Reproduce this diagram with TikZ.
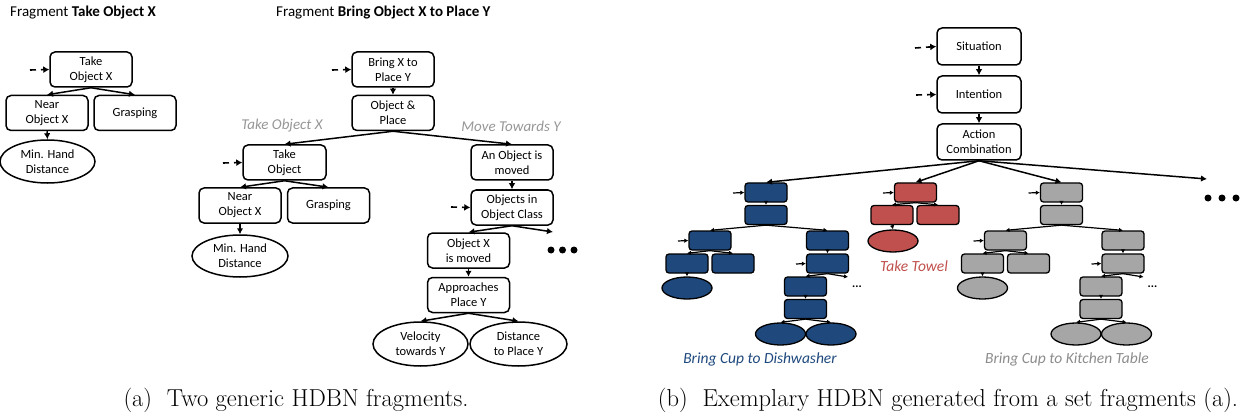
\documentclass[tikz,border=0pt]{standalone}
\usepackage{fontspec}
\newfontfamily\carl{Carlito}
\usetikzlibrary{arrows.meta,shapes.geometric}
\definecolor{hblue}{RGB}{31,73,125}
\definecolor{hred}{RGB}{192,80,77}
\definecolor{hgray}{RGB}{166,166,166}
\definecolor{lgray}{RGB}{150,150,150}
\definecolor{kgray}{RGB}{140,140,140}
\tikzset{
 box/.style={draw, line width=1.5pt, rounded corners=5pt, minimum width=82pt, minimum height=35pt, inner sep=0pt, align=center, font=\carl\fontsize{12.5}{15}\selectfont},
 oval/.style={draw, ellipse, line width=1.5pt, minimum width=95pt, minimum height=43pt, inner sep=0pt, align=center, font=\carl\fontsize{12.5}{15}\selectfont},
 arr/.style={line width=1.5pt, -{Latex[length=6pt,width=6.5pt]}},
 inarr/.style={line width=1.6pt, dash pattern=on 6pt off 5pt, -{Latex[length=6pt,width=7pt]}},
 mini/.style={draw, fill=#1, line width=1.3pt, rounded corners=3pt, minimum width=42pt, minimum height=19pt, inner sep=0pt},
 miniov/.style={draw, fill=#1, ellipse, line width=1.3pt, minimum width=50pt, minimum height=22pt, inner sep=0pt},
 marr/.style={line width=1.2pt, -{Latex[length=4pt,width=4.5pt]}},
 glabel/.style={font=\carl\itshape\fontsize{15}{18}\selectfont, text=lgray, inner sep=0pt},
 title/.style={font=\carl\fontsize{15}{18}\selectfont, anchor=west, inner sep=0pt},
 caption/.style={font=\fontsize{24.5}{28}\selectfont, inner sep=0pt},
 bigdot/.style={fill=black, circle, minimum size=7pt, inner sep=0pt},
 smalldots/.style={font=\carl\bfseries\fontsize{12}{14}\selectfont, inner sep=0pt},
}
\newcommand\minitree[3]{%
\begin{scope}[xshift=#2pt, name prefix=#1-]
\node[mini=#3] (b1) at (766,192.5) {};
\node[mini=#3] (b2) at (766,215) {};
\node[mini=#3] (b3) at (710,240.5) {};
\node[mini=#3] (b4) at (827.5,240.5) {};
\node[mini=#3] (b5) at (687,263.5) {};
\node[mini=#3] (b6) at (733,263.5) {};
\node[miniov=#3] (e1) at (687,288) {};
\node[mini=#3] (b7) at (827.5,263.5) {};
\node[mini=#3] (b8) at (805.5,286.5) {};
\node[mini=#3] (b9) at (805.5,309) {};
\node[miniov=#3] (e2) at (780.5,334) {};
\node[miniov=#3] (e3) at (831,334) {};
\coordinate (cr) at (848,277);
\coordinate (i1) at (733,193);
\coordinate (i2) at (678,241);
\coordinate (i3) at (796,264);
\node[smalldots] (dd) at (857,287) {...};
\draw[marr] (i1) -- (b1.west);
\draw[marr] (i2) -- (b3.west);
\draw[marr] (i3) -- (b7.west);
\draw[marr] (b1.south) -- (b2.north);
\draw[marr] (b2.south) -- (b3.north);
\draw[marr] (b2.south) -- (b4.north);
\draw[marr] (b3.south) -- (b5.north);
\draw[marr] (b3.south) -- (b6.north);
\draw[marr] (b5.south) -- (e1.north);
\draw[marr] (b4.south) -- (b7.north);
\draw[marr] (b7.south) -- (b8.north);
\draw[marr] (b7.south) -- (cr);
\draw[marr] (b8.south) -- (b9.north);
\draw[marr] (b9.south) -- (e2.north);
\draw[marr] (b9.south) -- (e3.north);
\end{scope}}
\begin{document}
\begin{tikzpicture}[x=1pt,y=-1pt]
\useasboundingbox (0,0) rectangle (1241,414);
% ---------- Fragment Take Object X
\node[title] (t-a) at (10,13) {Fragment \textbf{Take Object X}};
\node[box] (t1) at (91,69.5) {Take\\Object X};
\node[box] (n1) at (47,113) {Near\\Object X};
\node[box] (g1) at (135,113) {Grasping};
\node[oval] (e1) at (47.5,161.5) {Min. Hand\\Distance};
\coordinate (i1) at (30,70);
\draw[inarr] (i1) -- (t1.west);
\draw[arr] (t1.south) -- (n1.north);
\draw[arr] (t1.south) -- (g1.north);
\draw[arr] (n1.south) -- (e1.north);
% ---------- Fragment Bring Object X to Place Y
\node[title] (t-b) at (276,13) {Fragment \textbf{Bring Object X to Place Y}};
\node[box] (bx) at (393,69.5) {Bring X to\\Place Y};
\node[box] (op) at (393,113) {Object \&\\Place};
\coordinate (i2) at (332,70);
\draw[inarr] (i2) -- (bx.west);
\draw[arr] (bx.south) -- (op.north);
\node[glabel] (l1) at (282,126) {Take Object X};
\node[glabel] (l2) at (511,126) {Move Towards Y};
\node[box, minimum width=83pt] (to) at (284.5,162.5) {Take\\Object};
\coordinate (i3) at (223,163);
\draw[inarr] (i3) -- (to.west);
\node[box] (n2) at (240,205.5) {Near\\Object X};
\node[box] (g2) at (328.5,205.5) {Grasping};
\node[oval, minimum width=96pt, minimum height=42pt] (e2) at (240,256) {Min. Hand\\Distance};
\draw[arr] (op.south) -- (to.north);
\draw[arr] (to.south) -- (n2.north);
\draw[arr] (to.south) -- (g2.north);
\draw[arr] (n2.south) -- (e2.north);
\node[box] (am) at (512,162.5) {An Object is\\moved};
\node[box] (oc) at (512,207.5) {Objects in\\Object Class};
\coordinate (i4) at (451,207);
\draw[inarr] (i4) -- (oc.west);
\draw[arr] (op.south) -- (am.north);
\draw[arr] (am.south) -- (oc.north);
\node[box] (ox) at (468.5,250.5) {Object X\\is moved};
\coordinate (c1) at (553,232);
\draw[arr] (oc.south) -- (ox.north);
\draw[arr] (oc.south) -- (c1);
\node[bigdot] (d1) at (551,250) {};
\node[bigdot] (d2) at (562.5,250) {};
\node[bigdot] (d3) at (574,250) {};
\node[box] (ap) at (468.5,295) {Approaches\\Place Y};
\draw[arr] (ox.south) -- (ap.north);
\node[oval, minimum height=44pt] (ev) at (420.5,344) {Velocity\\towards Y};
\node[oval, minimum width=97pt, minimum height=44pt] (ed) at (518.5,344) {Distance\\to Place Y};
\draw[arr] (ap.south) -- (ev.north);
\draw[arr] (ap.south) -- (ed.north);
% ---------- Right panel
\node[box, minimum width=84pt, minimum height=37pt] (si) at (979,46.5) {Situation};
\node[box, minimum width=84pt, minimum height=37pt] (it) at (979,94.5) {Intention};
\node[box, minimum width=84pt, minimum height=36pt] (ac) at (979,142) {Action\\Combination};
\coordinate (i5) at (915,48);
\coordinate (i6) at (916,95);
\draw[inarr] (i5) -- (si.west);
\draw[inarr] (i6) -- (it.west);
\draw[arr] (si.south) -- (it.north);
\draw[arr] (it.south) -- (ac.north);
\minitree{B}{0}{hblue}
\minitree{G}{295.5}{hgray}
% red tree
\node[mini=hred] (r1) at (915.5,192.5) {};
\node[mini=hred] (r2) at (892,215) {};
\node[mini=hred] (r3) at (938,215) {};
\node[miniov=hred] (re) at (893,241) {};
\coordinate (ri) at (883,193);
\draw[marr] (ri) -- (r1.west);
\draw[marr] (r1.south) -- (r2.north);
\draw[marr] (r1.south) -- (r3.north);
\draw[marr] (r2.south) -- (re.north);
\coordinate (far) at (1207,179);
\draw[arr] (ac.south) -- (B-b1.north);
\draw[arr] (ac.south) -- (r1.north);
\draw[arr] (ac.south) -- (G-b1.north);
\draw[arr] (ac.south) -- (far);
\node[bigdot] (d4) at (1208,198) {};
\node[bigdot] (d5) at (1222,198) {};
\node[bigdot] (d6) at (1236,198) {};
\node[glabel, text=hblue, font=\carl\itshape\fontsize{15.5}{18}\selectfont] (lb) at (760,359) {Bring Cup to Dishwasher};
\node[glabel, text=hred, font=\carl\itshape\fontsize{15.5}{18}\selectfont] (lr) at (914,266) {Take Towel};
\node[glabel, text=kgray, font=\carl\itshape\fontsize{15.5}{18}\selectfont] (lg) at (1067,359) {Bring Cup to Kitchen Table};
% ---------- captions
\node[caption] (ca) at (296,400) {(a)\ \ Two generic HDBN fragments.};
\node[caption] (cb) at (948,400) {(b)\ \ Exemplary HDBN generated from a set fragments (a).};
\end{tikzpicture}
\end{document}
